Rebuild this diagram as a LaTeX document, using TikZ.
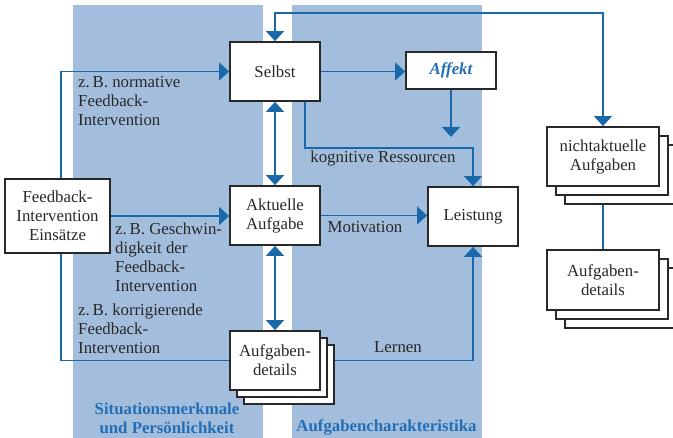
\documentclass[tikz,border=0pt]{standalone}
\usepackage{fontspec}
\setmainfont{Liberation Serif}
\usetikzlibrary{arrows.meta,shadows,calc}
\definecolor{panelblue}{RGB}{163,190,221}
\definecolor{lineblue}{RGB}{25,105,170}
\definecolor{labelblue}{RGB}{35,110,180}
\definecolor{ink}{RGB}{40,40,40}
\pgfdeclarelayer{panels}
\pgfdeclarelayer{lines}
\pgfsetlayers{panels,lines,main}
\begin{document}
\begin{tikzpicture}[x=1pt,y=-1pt,
  >={Triangle[width=18pt,length=10pt]},
  txt/.style={font=\fontsize{16.8pt}{19pt}\selectfont, text=ink},
  box/.style={txt, draw=ink, line width=1.8pt, fill=white, align=center, inner sep=0pt},
  stackA/.style={general shadow={shadow xshift=14pt, shadow yshift=-14pt, draw=ink, fill=white, line width=1.8pt},
                 general shadow={shadow xshift=7pt, shadow yshift=-7pt, draw=ink, fill=white, line width=1.8pt}},
  stackB/.style={general shadow={shadow xshift=18pt, shadow yshift=-18pt, draw=ink, fill=white, line width=1.8pt},
                 general shadow={shadow xshift=9pt, shadow yshift=-9pt, draw=ink, fill=white, line width=1.8pt}},
  link/.style={draw=lineblue, line width=1.5pt},
  lbl/.style={txt, inner sep=0pt, align=left},
  heading/.style={font=\bfseries\fontsize{16.8pt}{19pt}\selectfont, text=labelblue, inner sep=0pt, align=center}
]
\useasboundingbox (0,0) rectangle (673,438);

% column panels
\begin{pgfonlayer}{panels}
  \fill[panelblue] (73,5) rectangle (263,438);
  \fill[panelblue] (292,5) rectangle (482,438);
\end{pgfonlayer}

% boxes
\node[box, minimum width=105pt, minimum height=74pt] (feedback) at (57.5,216) {Feedback-\\Intervention\\Einsätze};
\node[box, minimum width=90pt, minimum height=59pt] (selbst) at (275,71.5) {Selbst};
\node[box, minimum width=90pt, minimum height=59pt] (aktuell) at (275,215.5) {Aktuelle\\Aufgabe};
\node[box, stackA, minimum width=90pt, minimum height=59pt] (details) at (275,360.5) {Aufgaben-\\details};
\node[box, minimum width=90pt, minimum height=37pt, font=\bfseries\itshape\fontsize{16.8pt}{19pt}\selectfont, text=labelblue] (affekt) at (451,70.5) {Affekt};
\node[box, minimum width=90pt, minimum height=59pt] (leistung) at (473,216.5) {Leistung};
\node[box, stackB, minimum width=112pt, minimum height=59pt] (nicht) at (603,156.5) {nichtaktuelle\\Aufgaben};
\node[box, stackB, minimum width=112pt, minimum height=60pt] (rdetails) at (603,280) {Aufgaben-\\details};

\coordinate (toprow) at (0,13);
\coordinate (kogturn) at (305,148);
\coordinate (affend) at (451,137);

% connectors
\begin{pgfonlayer}{lines}
  \draw[link,->] ([xshift=3.5pt]feedback.north) |- (selbst.west);
  \draw[link,->] (feedback.east) -- (feedback.east -| aktuell.west);
  \draw[link] ([xshift=3.5pt]feedback.south) |- (details.west);
  \draw[link,<->] (selbst.south) -- (aktuell.north);
  \draw[link,<->] (aktuell.south) -- (details.north);
  \draw[link,<->] (selbst.north) -- (selbst.north |- toprow) -| (nicht.north);
  \draw[link] (nicht.south) -- (rdetails.north);
  \draw[link,->] (selbst.east) -- (selbst.east -| affekt.west);
  \draw[link,->] (affekt.south) -- (affend);
  \draw[link,->] ([xshift=30pt]selbst.south) -- (kogturn) -| (leistung.north);
  \draw[link,->] (aktuell.east) -- (aktuell.east -| leistung.west);
  \draw[link,->] (details.east) -| (leistung.south);
\end{pgfonlayer}

% connector labels
\node[lbl, anchor=north west] (normlbl) at (78,76.5) {z.\,B. normative\\Feedback-\\Intervention};
\node[lbl, anchor=north west] (speedlbl) at (115,222.5) {z.\,B. Geschwin-\\digkeit der\\Feedback-\\Intervention};
\node[lbl, anchor=north west] (corrlbl) at (78,303.5) {z.\,B. korrigierende\\Feedback-\\Intervention};
\node[txt, inner sep=0pt, anchor=base] (koglbl) at (383,163) {kognitive Ressourcen};
\node[txt, inner sep=0pt, anchor=base] (motlbl) at (365,233) {Motivation};
\node[txt, inner sep=0pt, anchor=base] (lernlbl) at (398,353) {Lernen};

% column headings
\node[heading, anchor=north] (sitlbl) at (167,402.5) {Situationsmerkmale\\und Persönlichkeit};
\node[heading, anchor=base] (charlbl) at (386.5,432) {Aufgabencharakteristika};
\end{tikzpicture}
\end{document}
